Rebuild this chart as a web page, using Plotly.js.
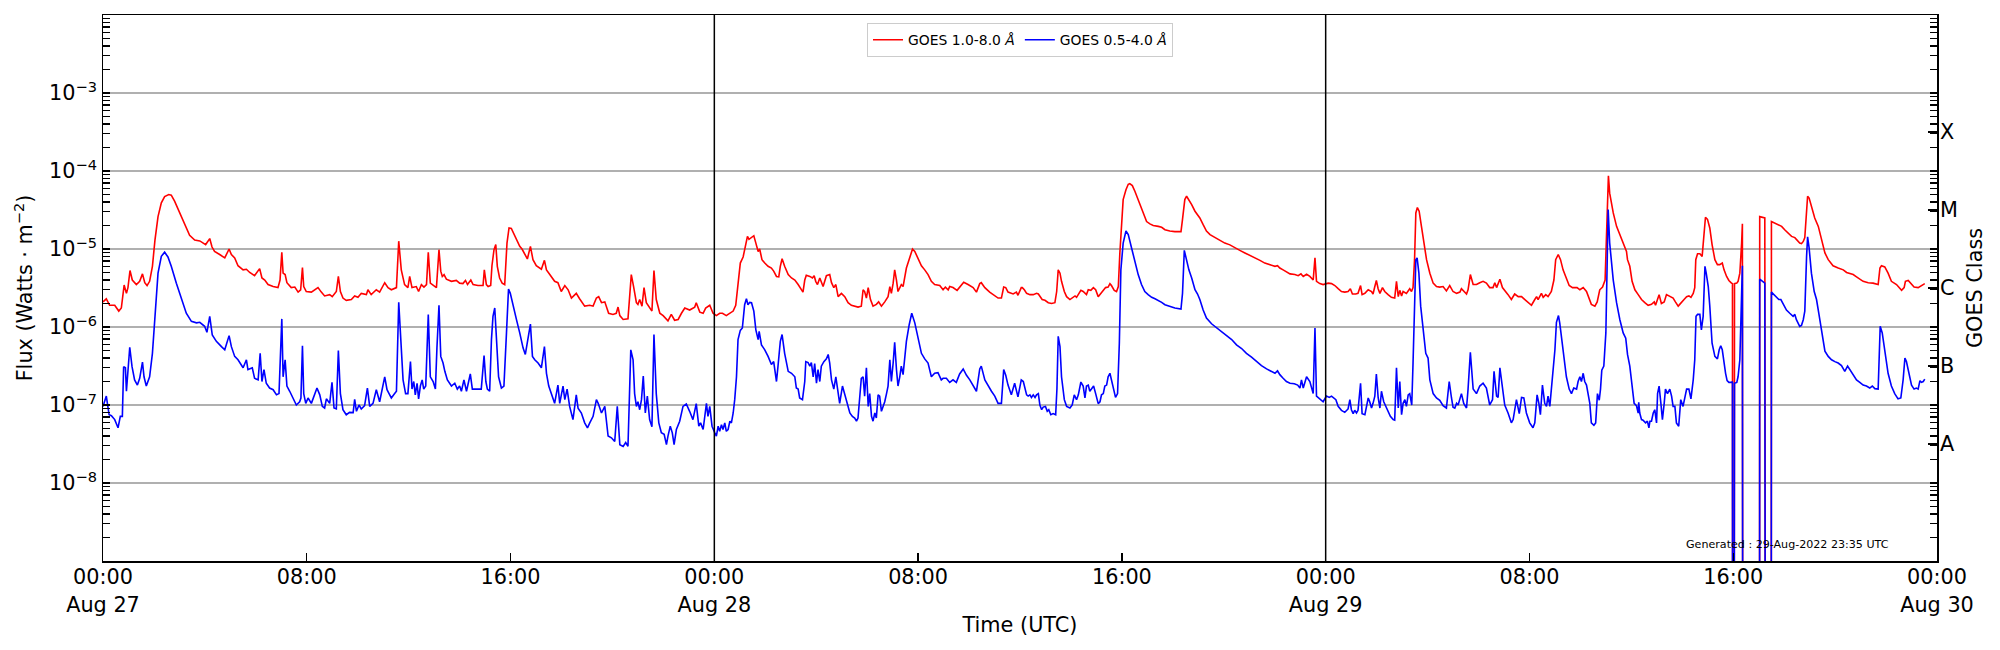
<!DOCTYPE html>
<html>
<head>
<meta charset="utf-8">
<script src="https://cdn.plot.ly/plotly-3.0.1.min.js"></script>
<style>
  html, body { margin: 0; padding: 0; background: #fff; }
  #goesPlot { width: 2000px; height: 650px; }
</style>
</head>
<body>
<div id="goesPlot"></div>
<script>
// times are hours after 2022-08-27 00:00 UTC, flux in W/m^2
// a 0 marks the zero samples near 16:00 on Aug 29 (drawn off the bottom like matplotlib)
var longT = [
  0.00, 0.13, 0.26, 0.46, 0.62, 0.72, 0.83, 0.92, 0.98, 1.06, 1.15, 1.31, 1.44, 1.55, 1.64, 1.73, 1.83, 1.94,
  2.04, 2.16, 2.29, 2.42, 2.58, 2.68, 2.81, 3.01, 3.21, 3.40, 3.60, 3.80, 4.03, 4.19, 4.28, 4.38, 4.58, 4.78,
  4.95, 5.04, 5.17, 5.30, 5.50, 5.63, 5.76, 5.95, 6.15, 6.24, 6.35, 6.48, 6.68, 6.87, 6.95, 7.02, 7.07, 7.15,
  7.22, 7.39, 7.53, 7.66, 7.76, 7.83, 7.88, 7.98, 8.18, 8.38, 8.44, 8.57, 8.70, 8.90, 9.00, 9.16, 9.24, 9.32,
  9.42, 9.55, 9.75, 9.88, 10.01, 10.14, 10.34, 10.40, 10.53, 10.73, 10.86, 11.06, 11.19, 11.32, 11.52, 11.61,
  11.71, 11.84, 11.97,
  12.04, 12.13, 12.30, 12.39, 12.50, 12.60, 12.70, 12.77, 12.85, 12.96, 13.09, 13.19, 13.26, 13.32, 13.39,
  13.48, 13.68, 13.87, 14.00, 14.13, 14.23, 14.31, 14.44, 14.53, 14.72, 14.92, 14.97, 15.05, 15.12, 15.22,
  15.27, 15.35, 15.42, 15.48, 15.57, 15.67, 15.77, 15.86, 15.94, 16.03, 16.16, 16.36, 16.45, 16.56, 16.66,
  16.78, 16.88, 17.01, 17.21, 17.33, 17.41, 17.54, 17.73, 17.86, 17.99, 18.13, 18.26, 18.39, 18.58, 18.71,
  18.91, 19.11, 19.24, 19.37, 19.46, 19.57, 19.70, 19.85, 20.02, 20.15, 20.22, 20.29, 20.42, 20.61, 20.74,
  20.83, 20.94, 21.00, 21.07, 21.16, 21.24, 21.33, 21.46, 21.55, 21.63, 21.72, 21.86, 21.99, 22.18, 22.31,
  22.44, 22.58, 22.71, 22.84, 23.03, 23.23, 23.29, 23.43, 23.56, 23.66, 23.82, 23.95, 24.08,
  24.15, 24.21, 24.32, 24.41, 24.47, 24.54, 24.63, 24.74, 24.84, 24.93, 25.02, 25.13, 25.22, 25.30, 25.36,
  25.46, 25.55, 25.63, 25.72, 25.78, 25.87, 25.98, 26.11, 26.24, 26.33, 26.44, 26.53, 26.59, 26.66, 26.76,
  26.90, 27.03, 27.16, 27.29, 27.38, 27.48, 27.55, 27.61, 27.75, 27.85, 27.92, 27.98, 28.05, 28.14, 28.27,
  28.40, 28.53, 28.60, 28.69, 28.77, 28.86, 28.99, 29.12, 29.25, 29.38, 29.51, 29.64, 29.77, 29.84, 29.90,
  29.97, 30.04, 30.13, 30.23, 30.36, 30.45, 30.56, 30.69, 30.82, 30.89, 30.95, 31.02, 31.08, 31.15, 31.21,
  31.34, 31.41, 31.54, 31.67, 31.78, 31.87, 32.00, 32.13, 32.26, 32.39, 32.52, 32.65, 32.85, 32.98, 33.07,
  33.18, 33.24, 33.37, 33.53, 33.66, 33.79, 33.96, 34.16, 34.29, 34.42, 34.48, 34.62, 34.81, 35.01, 35.14,
  35.27, 35.36, 35.44, 35.53, 35.73, 35.86, 35.92, 36.05,
  36.09, 36.17, 36.26, 36.39, 36.52, 36.65, 36.72, 36.78, 36.87, 36.98, 37.11, 37.24, 37.37, 37.44, 37.50,
  37.57, 37.63, 37.74, 37.83, 37.96, 38.05, 38.16, 38.22, 38.29, 38.39, 38.48, 38.55, 38.61, 38.68, 38.78,
  38.88, 38.97, 39.07, 39.18, 39.28, 39.36, 39.46, 39.53, 39.59, 39.70, 39.79, 39.86, 39.92, 39.99, 40.05,
  40.16, 40.25, 40.31, 40.41, 40.51, 40.64, 40.84, 40.97, 41.10, 41.23, 41.43, 41.56, 41.69, 41.88, 42.08,
  42.32, 42.38, 42.47, 42.54, 42.63, 42.74, 42.87, 42.97, 43.06, 43.19, 43.32, 43.46, 43.65, 43.85, 44.04,
  44.24, 44.44, 44.63, 44.83, 45.03, 45.22, 45.42, 45.61, 45.81, 46.01, 46.11, 46.20, 46.33, 46.46, 46.60,
  46.79, 46.92, 47.03, 47.12, 47.25, 47.38, 47.51, 47.58, 47.64, 47.77, 47.90, 48.03,
  48.10, 48.23, 48.36, 48.49, 48.62, 48.75, 48.88, 48.97, 49.05, 49.18, 49.27, 49.37, 49.43, 49.54, 49.67,
  49.80, 49.86, 49.93, 49.99, 50.06, 50.13, 50.23, 50.32, 50.45, 50.58, 50.71, 50.78, 50.85, 50.91, 50.98,
  51.04, 51.17, 51.30, 51.37, 51.43, 51.49, 51.54, 51.60, 51.67, 51.76, 51.85, 51.96, 52.09, 52.22, 52.35,
  52.48, 52.61, 52.74, 52.87, 53.00, 53.14, 53.27, 53.33, 53.42, 53.53, 53.59, 53.68, 53.79, 53.92, 54.05,
  54.18, 54.31, 54.44, 54.57, 54.64, 54.71, 54.84, 54.94, 55.03, 55.16, 55.29, 55.42, 55.56, 55.69, 55.82,
  55.95, 56.08, 56.21, 56.28, 56.34, 56.47, 56.54, 56.64, 56.73, 56.86, 56.96, 57.03, 57.13, 57.22, 57.32,
  57.45, 57.56, 57.69, 57.78, 57.87, 57.98, 58.11, 58.24, 58.34, 58.43, 58.57, 58.66, 58.76, 58.87, 58.97,
  59.05, 59.10, 59.15, 59.29, 59.42, 59.55, 59.68, 59.81,
  59.85, 59.94, 60.03, 60.14, 60.27, 60.40, 60.53, 60.66, 60.79, 60.90, 60.95, 61.01, 61.09, 61.18, 61.29,
  61.38, 61.51, 61.64, 61.73, 61.84, 61.90, 61.97, 62.07, 62.17, 62.26, 62.34, 62.43, 62.49, 62.53, 62.60,
  62.69, 62.78, 62.86, 62.91, 62.99, 63.08, 63.17, 63.28, 63.38, 63.47, 63.57, 63.64, 63.74, 63.83, 63.93,
  63.97, 63.98, 64.03, 64.05, 64.14, 64.19, 64.26, 64.33, 64.36, 64.38, 65.03, 65.04, 65.11, 65.24, 65.27,
  65.49, 65.50, 65.63, 65.76, 65.90, 66.03, 66.16, 66.29, 66.42, 66.52, 66.61, 66.68, 66.75, 66.81, 66.86,
  66.92, 66.98, 67.07, 67.20, 67.34, 67.47, 67.60, 67.73, 67.92, 68.12, 68.32, 68.45, 68.58, 68.71, 68.84,
  68.97, 69.10, 69.30, 69.49, 69.69, 69.76, 69.82, 69.95, 70.08, 70.21, 70.41, 70.61, 70.71, 70.76, 70.87,
  70.97, 71.10, 71.26, 71.39, 71.52
];
var longFlux = [
  2.1e-6, 2.3e-6, 1.9e-6, 1.9e-6, 1.6e-6, 1.75e-6, 3.45e-6, 2.7e-6, 3.2e-6, 5.3e-6, 4.0e-6, 3.5e-6, 3.85e-6, 4.8e-6, 3.7e-6, 3.4e-6, 3.85e-6, 6.0e-6,
  1.3e-5, 2.6e-5, 3.9e-5, 4.7e-5, 5.0e-5, 4.9e-5, 4.1e-5, 2.9e-5, 2.05e-5, 1.5e-5, 1.3e-5, 1.27e-5, 1.14e-5, 1.36e-5, 1.06e-5, 9.3e-6, 8.5e-6, 7.7e-6,
  1.0e-5, 8.5e-6, 7.7e-6, 6.1e-6, 5.4e-6, 5.5e-6, 5.0e-6, 4.55e-6, 5.6e-6, 4.25e-6, 4.0e-6, 3.5e-6, 3.3e-6, 3.2e-6, 4.0e-6, 9.1e-6, 4.9e-6, 4.7e-6,
  3.7e-6, 3.2e-6, 3.25e-6, 2.8e-6, 3.0e-6, 5.8e-6, 3.3e-6, 2.85e-6, 2.8e-6, 3.07e-6, 3.2e-6, 2.8e-6, 2.5e-6, 2.6e-6, 2.45e-6, 2.85e-6, 4.45e-6, 2.85e-6,
  2.35e-6, 2.2e-6, 2.25e-6, 2.5e-6, 2.4e-6, 2.7e-6, 2.6e-6, 3.0e-6, 2.6e-6, 3.0e-6, 2.8e-6, 3.7e-6, 3.2e-6, 3.0e-6, 3.2e-6, 1.26e-5,
  5.4e-6, 3.5e-6, 3.2e-6,
  4.45e-6, 3.2e-6, 3.3e-6, 2.85e-6, 3.5e-6, 3.25e-6, 3.5e-6, 9.1e-6, 3.65e-6, 3.4e-6, 3.2e-6, 9.8e-6, 5.2e-6, 4.45e-6, 4.7e-6,
  4.1e-6, 3.85e-6, 3.95e-6, 3.65e-6, 3.6e-6, 3.95e-6, 3.5e-6, 4.0e-6, 3.5e-6, 3.4e-6, 3.4e-6, 5.4e-6, 3.5e-6, 3.3e-6, 3.4e-6,
  6.1e-6, 9.8e-6, 1.14e-5, 6.0e-6, 4.25e-6, 3.65e-6, 3.5e-6, 1.19e-5, 1.86e-5, 1.83e-5, 1.48e-5, 1.08e-5, 1.0e-5, 8.5e-6, 7.45e-6,
  1.08e-5, 7.3e-6, 6.1e-6, 5.5e-6, 7.15e-6, 5.4e-6, 4.7e-6, 3.85e-6, 3.7e-6, 2.85e-6, 3.4e-6, 3.0e-6, 2.35e-6, 2.7e-6, 2.3e-6,
  1.85e-6, 1.9e-6, 1.85e-6, 2.35e-6, 2.45e-6, 2.05e-6, 2.1e-6, 1.5e-6, 1.45e-6, 1.5e-6, 1.8e-6, 1.4e-6, 1.25e-6, 1.27e-6, 4.7e-6,
  3.3e-6, 2.05e-6, 1.95e-6, 2.25e-6, 1.85e-6, 3.2e-6, 2.05e-6, 1.75e-6, 1.6e-6, 5.3e-6, 2.25e-6, 1.5e-6, 1.4e-6, 1.2e-6, 1.45e-6,
  1.22e-6, 1.25e-6, 1.5e-6, 1.75e-6, 1.65e-6, 1.8e-6, 2.05e-6, 1.55e-6, 1.5e-6, 1.75e-6, 1.9e-6, 1.5e-6, 1.4e-6,
  1.45e-6, 1.5e-6, 1.5e-6, 1.45e-6, 1.4e-6, 1.45e-6, 1.5e-6, 1.6e-6, 1.9e-6, 3.65e-6, 6.6e-6, 7.9e-6, 1.08e-5, 1.45e-5, 1.33e-5,
  1.42e-5, 1.48e-5, 1.19e-5, 9.3e-6, 1.0e-5, 7.3e-6, 6.6e-6, 6.0e-6, 5.7e-6, 5.2e-6, 4.45e-6, 4.4e-6, 6.0e-6, 7.5e-6, 6.0e-6,
  4.7e-6, 4.25e-6, 4.0e-6, 3.5e-6, 3.2e-6, 2.8e-6, 4.0e-6, 4.6e-6, 4.45e-6, 4.25e-6, 4.55e-6, 3.85e-6, 3.5e-6, 4.25e-6, 3.3e-6,
  4.55e-6, 4.7e-6, 3.7e-6, 3.2e-6, 3.5e-6, 2.45e-6, 2.7e-6, 2.45e-6, 2.05e-6, 1.9e-6, 1.85e-6, 1.8e-6, 1.85e-6, 3.0e-6, 2.85e-6,
  2.35e-6, 3.2e-6, 2.25e-6, 1.85e-6, 1.95e-6, 2.1e-6, 1.85e-6, 2.1e-6, 2.45e-6, 3.3e-6, 2.7e-6, 3.65e-6, 5.4e-6, 4.0e-6, 2.85e-6,
  3.5e-6, 3.3e-6, 5.7e-6, 8.05e-6, 1.0e-5, 9.3e-6, 7.7e-6, 6.1e-6, 5.4e-6, 4.7e-6, 3.85e-6, 3.5e-6, 3.4e-6, 3.0e-6, 3.25e-6,
  3.0e-6, 3.3e-6, 3.2e-6, 2.95e-6, 3.3e-6, 3.75e-6, 3.5e-6, 3.2e-6, 2.8e-6, 3.6e-6, 3.7e-6, 3.2e-6, 2.8e-6, 2.5e-6, 2.35e-6,
  2.35e-6, 3.25e-6, 3.2e-6, 2.8e-6, 2.65e-6, 2.8e-6, 2.55e-6, 3.2e-6,
  3.2e-6, 3.0e-6, 2.7e-6, 2.6e-6, 2.6e-6, 2.7e-6, 2.65e-6, 2.45e-6, 2.25e-6, 2.2e-6, 2.05e-6, 2.0e-6, 2.05e-6, 2.85e-6, 5.4e-6,
  4.9e-6, 3.85e-6, 2.85e-6, 2.45e-6, 2.25e-6, 2.35e-6, 2.5e-6, 2.4e-6, 2.6e-6, 2.95e-6, 2.85e-6, 2.7e-6, 2.6e-6, 3.0e-6, 2.95e-6,
  3.2e-6, 3.0e-6, 2.45e-6, 2.7e-6, 3.0e-6, 3.2e-6, 3.25e-6, 3.6e-6, 3.4e-6, 2.95e-6, 2.85e-6, 3.3e-6, 8.9e-6, 2.4e-5, 4.3e-5,
  5.75e-5, 6.75e-5, 6.9e-5, 6.5e-5, 5.5e-5, 4.3e-5, 2.9e-5, 2.25e-5, 2.1e-5, 2.0e-5, 1.95e-5, 1.9e-5, 1.77e-5, 1.7e-5, 1.67e-5,
  1.67e-5, 2.4e-5, 4.3e-5, 4.75e-5, 4.3e-5, 3.7e-5, 3.05e-5, 2.75e-5, 2.5e-5, 2.05e-5, 1.7e-5, 1.53e-5, 1.4e-5, 1.28e-5, 1.19e-5,
  1.13e-5, 1.03e-5, 9.6e-6, 8.9e-6, 8.3e-6, 7.7e-6, 7.15e-6, 6.6e-6, 6.25e-6, 6.0e-6, 6.1e-6, 5.7e-6, 5.4e-6, 5.05e-6, 4.8e-6,
  4.7e-6, 4.55e-6, 4.8e-6, 4.45e-6, 4.75e-6, 4.45e-6, 4.0e-6, 7.7e-6, 3.85e-6, 3.6e-6, 3.5e-6, 3.65e-6,
  3.65e-6, 3.6e-6, 3.4e-6, 3.1e-6, 2.85e-6, 2.8e-6, 2.85e-6, 3.1e-6, 2.65e-6, 2.65e-6, 2.7e-6, 3.4e-6, 2.6e-6, 2.7e-6, 3.0e-6,
  2.85e-6, 2.65e-6, 3.3e-6, 3.95e-6, 3.1e-6, 2.7e-6, 3.2e-6, 2.85e-6, 2.6e-6, 2.4e-6, 2.35e-6, 3.85e-6, 2.45e-6, 2.95e-6, 2.5e-6,
  2.85e-6, 2.7e-6, 3.1e-6, 2.85e-6, 3.2e-6, 7.3e-6, 2.9e-5, 3.4e-5, 3.05e-5, 1.95e-5, 1.19e-5, 7.3e-6, 4.9e-6, 3.65e-6, 3.3e-6,
  3.25e-6, 3.3e-6, 2.9e-6, 3.4e-6, 2.85e-6, 2.7e-6, 2.8e-6, 3.1e-6, 2.85e-6, 2.65e-6, 3.0e-6, 4.7e-6, 3.5e-6, 3.5e-6, 3.7e-6,
  3.85e-6, 3.65e-6, 3.2e-6, 3.2e-6, 3.7e-6, 3.2e-6, 4.1e-6, 3.2e-6, 2.95e-6, 2.6e-6, 2.25e-6, 2.65e-6, 2.45e-6, 2.45e-6, 2.25e-6,
  2.05e-6, 1.9e-6, 2.25e-6, 2.45e-6, 2.25e-6, 2.7e-6, 2.4e-6, 2.6e-6, 2.45e-6, 2.85e-6, 4.0e-6, 7.3e-6, 8.5e-6, 7.3e-6, 5.4e-6,
  4.1e-6, 3.4e-6, 3.2e-6, 3.2e-6, 3.2e-6, 3.0e-6, 3.2e-6, 2.85e-6, 2.35e-6, 1.95e-6, 1.85e-6, 2.1e-6, 3.0e-6, 3.25e-6, 4.0e-6,
  2.4e-5, 8.7e-5, 5.2e-5, 2.9e-5, 1.95e-5, 1.53e-5, 1.19e-5, 9.3e-6,
  7.3e-6, 6.0e-6, 3.85e-6, 3.0e-6, 2.6e-6, 2.25e-6, 2.05e-6, 1.9e-6, 1.95e-6, 2.1e-6, 1.9e-6, 2.25e-6, 2.6e-6, 2.0e-6, 2.1e-6,
  2.6e-6, 2.5e-6, 2.35e-6, 2.1e-6, 1.85e-6, 1.95e-6, 2.1e-6, 2.25e-6, 2.45e-6, 2.5e-6, 2.4e-6, 2.7e-6, 3.2e-6, 7.3e-6, 8.7e-6,
  8.7e-6, 8.05e-6, 1.77e-5, 2.55e-5, 2.4e-5, 1.86e-5, 1.14e-5, 7.3e-6, 6.3e-6, 6.3e-6, 6.6e-6, 5.4e-6, 4.45e-6, 3.95e-6, 3.65e-6,
  3.6e-6, 0, 0, 3.6e-6, 3.65e-6, 3.85e-6, 4.9e-6, 1.19e-5, 2.1e-5, 0, 0, 2.6e-5, 2.55e-5, 2.5e-5, 0,
  0, 2.25e-5, 2.15e-5, 2.05e-5, 1.95e-5, 1.75e-5, 1.58e-5, 1.45e-5, 1.4e-5, 1.3e-5, 1.19e-5, 1.17e-5, 1.25e-5, 1.4e-5, 2.6e-5,
  4.75e-5, 4.5e-5, 3.5e-5, 2.5e-5, 1.95e-5, 1.3e-5, 8.9e-6, 7.3e-6, 6.1e-6, 5.7e-6, 5.4e-6, 5.0e-6, 4.9e-6, 4.7e-6, 4.4e-6,
  4.1e-6, 3.85e-6, 3.7e-6, 3.65e-6, 3.5e-6, 5.7e-6, 6.1e-6, 5.9e-6, 4.9e-6, 3.85e-6, 3.5e-6, 2.95e-6, 3.2e-6, 3.85e-6, 3.95e-6,
  3.6e-6, 3.25e-6, 3.2e-6, 3.4e-6, 3.6e-6
];

var shortT = [
  0.00, 0.13, 0.24, 0.33, 0.46, 0.59, 0.68, 0.76, 0.81, 0.88, 0.92, 0.98, 1.05, 1.14, 1.24, 1.35, 1.44, 1.55,
  1.61, 1.70, 1.83, 1.94, 2.03, 2.16, 2.29, 2.42, 2.55, 2.68, 2.88, 3.08, 3.27, 3.47, 3.67, 3.80, 3.99, 4.08,
  4.19, 4.29, 4.45, 4.65, 4.78, 4.95, 5.04, 5.17, 5.30, 5.50, 5.63, 5.69, 5.86, 5.95, 6.09, 6.17, 6.24, 6.32,
  6.41, 6.54, 6.68, 6.81, 6.91, 7.02, 7.07, 7.15, 7.22, 7.33, 7.46, 7.59, 7.72, 7.77, 7.83, 7.88, 7.96, 8.05,
  8.18, 8.40, 8.51, 8.61, 8.70, 8.77, 8.90, 8.99, 9.07, 9.16, 9.24, 9.32, 9.42, 9.55, 9.68, 9.82, 9.88, 9.95,
  10.05, 10.14, 10.27, 10.38, 10.47, 10.60, 10.73, 10.86, 11.06, 11.15, 11.23, 11.32, 11.45, 11.52, 11.61,
  11.69, 11.78, 11.88, 11.97,
  12.07, 12.13, 12.20, 12.26, 12.33, 12.39, 12.46, 12.53, 12.59, 12.67, 12.77, 12.85, 12.96, 13.05, 13.11,
  13.19, 13.26, 13.35, 13.42, 13.52, 13.68, 13.81, 13.91, 14.00, 14.07, 14.17, 14.27, 14.33, 14.42, 14.50,
  14.66, 14.85, 14.96, 15.03, 15.09, 15.18, 15.25, 15.31, 15.38, 15.46, 15.53, 15.64, 15.74, 15.84, 15.92,
  15.99, 16.10, 16.23, 16.36, 16.49, 16.58, 16.69, 16.78, 16.86, 16.95, 17.08, 17.21, 17.33, 17.41, 17.50,
  17.60, 17.73, 17.86, 17.93, 18.06, 18.13, 18.22, 18.32, 18.45, 18.58, 18.65, 18.78, 18.91, 19.02, 19.11,
  19.24, 19.37, 19.44, 19.57, 19.70, 19.83, 19.96, 20.09, 20.19, 20.29, 20.42, 20.52, 20.61, 20.72, 20.81,
  20.87, 20.94, 21.00, 21.07, 21.14, 21.21, 21.29, 21.37, 21.46, 21.55, 21.63, 21.72, 21.82, 21.92, 22.03,
  22.12, 22.18, 22.27, 22.35, 22.42, 22.51, 22.64, 22.77, 22.90, 23.03, 23.16, 23.29, 23.39, 23.46, 23.56,
  23.69, 23.75, 23.82, 23.91, 24.02, 24.08,
  24.15, 24.21, 24.28, 24.34, 24.41, 24.47, 24.54, 24.61, 24.67, 24.74, 24.80, 24.87, 24.93, 25.02, 25.10,
  25.19, 25.26, 25.32, 25.39, 25.46, 25.55, 25.63, 25.72, 25.76, 25.85, 25.98, 26.11, 26.24, 26.33, 26.44,
  26.50, 26.59, 26.66, 26.76, 26.90, 27.03, 27.16, 27.22, 27.29, 27.35, 27.46, 27.55, 27.59, 27.68, 27.75,
  27.81, 27.88, 27.94, 28.01, 28.07, 28.14, 28.20, 28.30, 28.40, 28.47, 28.53, 28.60, 28.69, 28.77, 28.86,
  28.92, 29.03, 29.12, 29.21, 29.32, 29.42, 29.51, 29.58, 29.64, 29.77, 29.84, 29.90, 29.97, 30.04, 30.10,
  30.17, 30.23, 30.30, 30.36, 30.43, 30.49, 30.56, 30.69, 30.76, 30.82, 30.89, 30.95, 31.02, 31.08, 31.15,
  31.21, 31.28, 31.34, 31.41, 31.47, 31.54, 31.65, 31.75, 31.87, 32.00, 32.13, 32.26, 32.39, 32.52, 32.65,
  32.78, 32.91, 32.98, 33.11, 33.24, 33.37, 33.50, 33.63, 33.77, 33.90, 34.03, 34.16, 34.29, 34.42, 34.48,
  34.62, 34.75, 34.88, 35.01, 35.14, 35.27, 35.36, 35.44, 35.53, 35.66, 35.79, 35.92, 36.05,
  36.13, 36.19, 36.26, 36.32, 36.39, 36.45, 36.52, 36.59, 36.65, 36.72, 36.78, 36.85, 36.91, 37.00, 37.07,
  37.13, 37.21, 37.30, 37.40, 37.45, 37.50, 37.57, 37.63, 37.74, 37.83, 37.96, 38.05, 38.13, 38.22, 38.29,
  38.39, 38.48, 38.55, 38.61, 38.68, 38.74, 38.81, 38.89, 38.97, 39.07, 39.14, 39.20, 39.27, 39.33, 39.40,
  39.46, 39.53, 39.59, 39.66, 39.75, 39.83, 39.90, 39.96, 40.05, 40.16, 40.25, 40.38, 40.51, 40.64, 40.77,
  40.90, 41.03, 41.17, 41.30, 41.43, 41.56, 41.69, 41.88, 42.08, 42.32, 42.38, 42.45, 42.54, 42.63, 42.74,
  42.87, 42.97, 43.06, 43.19, 43.32, 43.52, 43.72, 43.91, 44.11, 44.31, 44.50, 44.70, 44.89, 45.09, 45.29,
  45.48, 45.68, 45.88, 46.01, 46.11, 46.20, 46.33, 46.46, 46.60, 46.77, 46.90, 46.99, 47.05, 47.12, 47.25,
  47.38, 47.51, 47.58, 47.64, 47.77, 47.90, 48.03,
  48.14, 48.23, 48.32, 48.40, 48.49, 48.62, 48.75, 48.88, 48.95, 49.01, 49.08, 49.14, 49.21, 49.27, 49.37,
  49.43, 49.54, 49.60, 49.67, 49.73, 49.80, 49.86, 49.93, 49.99, 50.06, 50.13, 50.19, 50.28, 50.39, 50.45,
  50.54, 50.65, 50.71, 50.78, 50.85, 50.91, 50.98, 51.04, 51.11, 51.17, 51.24, 51.30, 51.38, 51.43, 51.49,
  51.54, 51.59, 51.66, 51.73, 51.83, 51.93, 52.02, 52.09, 52.22, 52.35, 52.48, 52.61, 52.74, 52.85, 52.94,
  53.00, 53.07, 53.14, 53.20, 53.33, 53.42, 53.53, 53.59, 53.68, 53.79, 53.92, 54.05, 54.18, 54.31, 54.44,
  54.55, 54.61, 54.71, 54.77, 54.84, 54.94, 55.03, 55.16, 55.29, 55.36, 55.49, 55.60, 55.69, 55.78, 55.88,
  56.01, 56.14, 56.21, 56.30, 56.37, 56.43, 56.51, 56.60, 56.67, 56.73, 56.80, 56.86, 56.93, 57.00, 57.06,
  57.14, 57.19, 57.26, 57.35, 57.45, 57.56, 57.65, 57.74, 57.85, 57.91, 57.98, 58.04, 58.11, 58.17, 58.24,
  58.37, 58.43, 58.53, 58.60, 58.67, 58.74, 58.79, 58.84, 58.92, 59.00, 59.09, 59.15, 59.29, 59.42, 59.55,
  59.68, 59.78,
  59.85, 59.94, 60.01, 60.11, 60.20, 60.27, 60.29, 60.33, 60.40, 60.46, 60.56, 60.63, 60.69, 60.73, 60.79,
  60.86, 60.92, 60.99, 61.03, 61.09, 61.16, 61.22, 61.29, 61.34, 61.42, 61.51, 61.58, 61.64, 61.71, 61.77,
  61.86, 61.94, 62.03, 62.10, 62.17, 62.26, 62.34, 62.43, 62.49, 62.54, 62.60, 62.69, 62.75, 62.82, 62.89,
  62.94, 63.02, 63.08, 63.17, 63.28, 63.38, 63.45, 63.51, 63.57, 63.63, 63.70, 63.76, 63.83, 63.93, 63.97,
  63.98, 64.03, 64.05, 64.14, 64.19, 64.26, 64.33, 64.36, 64.38, 65.03, 65.04, 65.11, 65.24, 65.27, 65.49,
  65.50, 65.61, 65.70, 65.79, 65.87, 65.96, 66.09, 66.22, 66.35, 66.42, 66.48, 66.61, 66.68, 66.75, 66.81,
  66.88, 66.92, 66.98, 67.07, 67.18, 67.27, 67.36, 67.47, 67.60, 67.73, 67.86, 67.99, 68.12, 68.25, 68.38,
  68.49, 68.58, 68.71, 68.84, 68.97, 69.10, 69.23, 69.36, 69.46, 69.56, 69.69, 69.77, 69.85, 69.95, 70.08,
  70.21, 70.34, 70.47, 70.58, 70.67, 70.74, 70.80, 70.87, 71.00, 71.10, 71.19, 71.26, 71.33, 71.39, 71.46,
  71.52
];
var shortFlux = [
  9.6e-8, 1.3e-7, 7.5e-8, 7.3e-8, 6.5e-8, 5.1e-8, 7.15e-8, 7.15e-8, 3.1e-7, 3.0e-7, 1.5e-7, 3.1e-7, 5.5e-7, 3.1e-7, 2.1e-7, 1.8e-7, 2.2e-7, 3.55e-7,
  2.3e-7, 1.75e-7, 2.3e-7, 4.6e-7, 1.24e-6, 4.9e-6, 8.05e-6, 9.1e-6, 7.9e-6, 6.0e-6, 3.65e-6, 2.25e-6, 1.5e-6, 1.18e-6, 1.13e-6, 1.15e-6, 1.02e-6, 8.55e-7,
  1.37e-6, 7.9e-7, 6.55e-7, 5.6e-7, 5.1e-7, 7.75e-7, 5.6e-7, 4.2e-7, 3.8e-7, 3.0e-7, 3.8e-7, 2.85e-7, 3.0e-7, 2.2e-7, 2.1e-7, 4.6e-7, 2.0e-7, 2.85e-7,
  1.9e-7, 1.65e-7, 1.57e-7, 1.35e-7, 1.4e-7, 1.27e-6, 2.3e-7, 3.8e-7, 1.75e-7, 1.5e-7, 1.23e-7, 1.0e-7, 1.1e-7, 1.23e-7, 5.75e-7, 1.4e-7, 1.05e-7, 1.23e-7,
  1.05e-7, 1.65e-7, 1.35e-7, 9.6e-8, 9.15e-8, 1.2e-7, 1.05e-7, 1.95e-7, 9.15e-8, 8.9e-8, 5.0e-7, 1.4e-7, 8.7e-8, 7.5e-8, 8.05e-8, 8.0e-8, 1.18e-7, 8.3e-8,
  1.0e-7, 8.9e-8, 9.8e-8, 1.65e-7, 9.6e-8, 1.05e-7, 1.57e-7, 1.1e-7, 2.3e-7, 1.57e-7, 1.4e-7, 1.23e-7, 1.4e-7, 1.5e-7, 2.07e-6,
  6.25e-7, 2.1e-7, 1.4e-7, 1.4e-7,
  3.6e-7, 1.6e-7, 2.0e-7, 1.35e-7, 1.9e-7, 1.2e-7, 1.75e-7, 2.1e-7, 1.6e-7, 1.75e-7, 1.44e-6, 2.3e-7, 2.0e-7, 1.6e-7, 5.4e-7,
  1.9e-6, 4.2e-7, 3.45e-7, 2.7e-7, 2.1e-7, 1.75e-7, 1.9e-7, 1.6e-7, 1.75e-7, 1.5e-7, 2.1e-7, 1.5e-7, 1.9e-7, 2.5e-7, 1.6e-7,
  1.6e-7, 1.6e-7, 4.3e-7, 2.0e-7, 1.6e-7, 1.5e-7, 6.9e-7, 1.37e-6, 1.75e-6, 6.2e-7, 2.3e-7, 1.65e-7, 1.75e-7, 8.4e-7, 3.07e-6,
  2.7e-6, 1.85e-6, 1.25e-6, 8.4e-7, 5.4e-7, 4.45e-7, 7.6e-7, 1.09e-6, 4.2e-7, 3.8e-7, 3.45e-7, 3.0e-7, 5.6e-7, 2.55e-7, 1.75e-7,
  1.4e-7, 1.05e-7, 1.8e-7, 1.05e-7, 1.75e-7, 1.17e-7, 1.6e-7, 9.6e-8, 6.5e-8, 1.35e-7, 9.1e-8, 7.9e-8, 5.9e-8, 5.1e-8, 5.9e-8,
  7.15e-8, 1.17e-7, 1.05e-7, 7.9e-8, 9.6e-8, 4.0e-8, 3.8e-8, 3.4e-8, 9.6e-8, 3.1e-8, 2.95e-8, 3.3e-8, 2.95e-8, 5.1e-7, 3.8e-7,
  1.4e-7, 9.6e-8, 1.1e-7, 8.7e-8, 1.17e-7, 2.35e-7, 7.9e-8, 1.3e-7, 6.5e-8, 5.25e-8, 8.0e-7, 1.4e-7, 5.9e-8, 4.4e-8, 4.2e-8,
  3.1e-8, 4.0e-8, 5.35e-8, 4.4e-8, 3.1e-8, 4.85e-8, 6.2e-8, 9.6e-8, 1.03e-7, 8.3e-8, 6.5e-8, 1.04e-7, 5.35e-8, 5.9e-8, 4.85e-8,
  1.05e-7, 7.15e-8, 9.6e-8, 5.35e-8, 4.4e-8, 4.0e-8,
  5.35e-8, 4.6e-8, 5.6e-8, 4.85e-8, 5.9e-8, 4.6e-8, 4.85e-8, 6.2e-8, 5.9e-8, 7.9e-8, 1.17e-7, 2.3e-7, 6.9e-7, 9.05e-7, 9.7e-7,
  1.93e-6, 2.3e-6, 1.93e-6, 2.07e-6, 2.05e-6, 1.6e-6, 9.2e-7, 6.9e-7, 8.8e-7, 5.9e-7, 5.1e-7, 4.2e-7, 3.3e-7, 3.6e-7, 2.0e-7,
  3.15e-7, 6.55e-7, 8.0e-7, 4.6e-7, 2.7e-7, 2.55e-7, 2.3e-7, 1.65e-7, 1.6e-7, 1.23e-7, 1.17e-7, 2.0e-7, 3.6e-7, 3.5e-7, 3.15e-7,
  3.5e-7, 2.3e-7, 3.4e-7, 1.9e-7, 2.85e-7, 2.0e-7, 3.15e-7, 3.6e-7, 3.9e-7, 4.45e-7, 3.45e-7, 2.1e-7, 1.6e-7, 2.3e-7, 1.4e-7,
  1.05e-7, 1.75e-7, 1.4e-7, 1.05e-7, 7.9e-8, 7.15e-8, 6.8e-8, 6.2e-8, 6.8e-8, 2.2e-7, 2.3e-7, 1.3e-7, 3.0e-7, 9.6e-8, 1.4e-7,
  7.15e-8, 6.2e-8, 7.9e-8, 6.8e-8, 1.35e-7, 1.3e-7, 8.3e-8, 1.1e-7, 1.4e-7, 1.75e-7, 3.8e-7, 2.0e-7, 3.45e-7, 6.35e-7, 2.85e-7,
  1.75e-7, 2.3e-7, 3.15e-7, 2.45e-7, 4.2e-7, 6.55e-7, 1.07e-6, 1.5e-6, 1.13e-6, 7.2e-7, 4.6e-7, 3.9e-7, 3.45e-7, 2.3e-7, 2.55e-7,
  2.6e-7, 2.1e-7, 2.2e-7, 2.2e-7, 1.95e-7, 2.1e-7, 1.95e-7, 2.5e-7, 2.9e-7, 2.4e-7, 2.1e-7, 1.8e-7, 1.5e-7, 2.9e-7, 3.15e-7,
  2.1e-7, 1.75e-7, 1.5e-7, 1.3e-7, 1.05e-7, 1.05e-7, 2.85e-7, 2.4e-7, 1.8e-7, 1.35e-7, 1.9e-7, 1.27e-7, 2.1e-7,
  2.0e-7, 1.6e-7, 1.35e-7, 1.3e-7, 1.35e-7, 1.25e-7, 1.35e-7, 1.25e-7, 1.35e-7, 1.4e-7, 1.0e-7, 8.7e-8, 9.4e-8, 9.6e-8, 8.3e-8,
  8.7e-8, 7.5e-8, 7.75e-8, 7.5e-8, 1.6e-7, 7.6e-7, 5.6e-7, 2.3e-7, 1.17e-7, 9.6e-8, 9.15e-8, 1.0e-7, 1.35e-7, 1.17e-7, 1.35e-7,
  1.97e-7, 1.75e-7, 1.23e-7, 1.75e-7, 1.8e-7, 1.5e-7, 1.62e-7, 1.75e-7, 1.4e-7, 1.04e-7, 1.1e-7, 1.35e-7, 1.4e-7, 1.75e-7, 1.8e-7,
  2.3e-7, 2.55e-7, 2.1e-7, 1.6e-7, 1.25e-7, 1.4e-7, 6.2e-7, 5.4e-6, 1.19e-5, 1.7e-5, 1.53e-5, 1.03e-5, 6.95e-6, 4.7e-6, 3.5e-6,
  2.85e-6, 2.6e-6, 2.4e-6, 2.3e-6, 2.2e-6, 2.07e-6, 1.93e-6, 1.85e-6, 1.75e-6, 1.7e-6, 2.7e-6, 9.6e-6, 7.3e-6, 5.4e-6, 4.25e-6,
  3.0e-6, 2.65e-6, 2.25e-6, 1.65e-6, 1.3e-6, 1.1e-6, 9.7e-7, 8.55e-7, 7.75e-7, 6.9e-7, 5.9e-7, 5.3e-7, 4.6e-7, 4.1e-7, 3.6e-7,
  3.2e-7, 2.9e-7, 2.65e-7, 2.55e-7, 2.75e-7, 2.45e-7, 2.2e-7, 2.0e-7, 1.9e-7, 1.87e-7, 1.8e-7, 1.65e-7, 2.1e-7, 1.65e-7, 2.3e-7,
  2.0e-7, 1.4e-7, 9.7e-7, 1.3e-7, 1.2e-7, 1.1e-7, 1.3e-7,
  1.25e-7, 1.3e-7, 1.23e-7, 1.17e-7, 9.6e-8, 8.55e-8, 8.05e-8, 8.9e-8, 1.17e-7, 8.7e-8, 7.75e-8, 8.55e-8, 7.9e-8, 8.55e-8, 1.9e-7,
  7.75e-8, 7.5e-8, 1.0e-7, 1.23e-7, 1.1e-7, 9.15e-8, 1.05e-7, 1.3e-7, 2.5e-7, 1.25e-7, 9.15e-8, 1.5e-7, 1.1e-7, 9.15e-8, 8.3e-8,
  7.15e-8, 6.5e-8, 6.4e-8, 3.0e-7, 9.15e-8, 2.0e-7, 7.5e-8, 1.05e-7, 1.17e-7, 9.6e-8, 1.35e-7, 1.4e-7, 1.0e-7, 3.45e-7, 2.7e-6,
  7.3e-6, 7.7e-6, 4.9e-6, 1.85e-6, 8.4e-7, 4.6e-7, 4.0e-7, 2.1e-7, 1.4e-7, 1.23e-7, 1.15e-7, 9.8e-8, 9.15e-8, 2.0e-7, 1.23e-7,
  9.4e-8, 9.15e-8, 1.05e-7, 1.0e-7, 1.4e-7, 1.05e-7, 9.15e-8, 1.6e-7, 4.75e-7, 1.6e-7, 1.4e-7, 1.75e-7, 1.9e-7, 1.65e-7, 1.0e-7,
  1.17e-7, 2.7e-7, 1.3e-7, 1.25e-7, 3.0e-7, 1.65e-7, 1.0e-7, 7.9e-8, 5.9e-8, 6.5e-8, 1.17e-7, 7.75e-8, 1.25e-7, 1.23e-7, 7.9e-8,
  5.9e-8, 5.1e-8, 5.9e-8, 1.35e-7, 1.05e-7, 7.5e-8, 1.8e-7, 1.05e-7, 9.6e-8, 1.3e-7, 9.6e-8, 1.6e-7, 2.55e-7, 5.1e-7, 1.15e-6,
  1.4e-6, 1.12e-6, 7.6e-7, 4.2e-7, 2.3e-7, 1.6e-7, 1.4e-7, 1.65e-7, 1.6e-7, 2.0e-7, 2.3e-7, 2.0e-7, 2.55e-7, 2.0e-7, 1.8e-7,
  1.05e-7, 5.9e-8, 5.5e-8, 5.9e-8, 1.4e-7, 1.15e-7, 1.6e-7, 2.8e-7, 3.15e-7, 8.4e-7, 3.2e-5, 1.19e-5, 4.0e-6, 2.05e-6, 1.24e-6,
  8.4e-7, 7.2e-7,
  4.45e-7, 3.15e-7, 2.1e-7, 1.05e-7, 9.8e-8, 7.9e-8, 1.08e-7, 7.9e-8, 6.5e-8, 6.4e-8, 5.9e-8, 6.2e-8, 5.1e-8, 6.2e-8, 6.2e-8,
  7.9e-8, 8.7e-8, 5.9e-8, 1.4e-7, 1.75e-7, 1.05e-7, 6.5e-8, 1.05e-7, 1.6e-7, 1.4e-7, 1.6e-7, 1.3e-7, 9.6e-8, 9.6e-8, 5.9e-8,
  5.35e-8, 1.17e-7, 9.6e-8, 1.23e-7, 1.6e-7, 1.6e-7, 1.2e-7, 2.1e-7, 3.8e-7, 1.37e-6, 1.45e-6, 1.45e-6, 9.2e-7, 1.37e-6, 6.0e-6,
  4.9e-6, 3.3e-6, 1.85e-6, 6.2e-7, 4.2e-7, 3.9e-7, 5.1e-7, 5.75e-7, 5.1e-7, 3.45e-7, 2.55e-7, 2.05e-7, 1.95e-7, 1.95e-7, 2.0e-7,
  0, 0, 1.9e-7, 1.95e-7, 2.3e-7, 3.8e-7, 2.7e-6, 6.1e-6, 0, 0, 4.1e-6, 3.95e-6, 3.65e-6, 0, 0,
  2.8e-6, 2.6e-6, 2.45e-6, 2.25e-6, 2.25e-6, 1.95e-6, 1.65e-6, 1.5e-6, 1.37e-6, 1.45e-6, 1.24e-6, 1.02e-6, 1.05e-6, 1.24e-6, 1.6e-6,
  8.05e-6, 1.43e-5, 1.03e-5, 4.9e-6, 2.85e-6, 2.25e-6, 1.5e-6, 8.4e-7, 4.9e-7, 4.2e-7, 3.8e-7, 3.6e-7, 3.45e-7, 3.2e-7, 2.7e-7,
  3.15e-7, 2.85e-7, 2.45e-7, 2.1e-7, 1.95e-7, 1.8e-7, 1.75e-7, 1.65e-7, 1.75e-7, 1.62e-7, 1.6e-7, 1.02e-6, 8.4e-7, 5.1e-7, 2.55e-7,
  1.75e-7, 1.4e-7, 1.2e-7, 1.23e-7, 2.1e-7, 4.0e-7, 3.6e-7, 2.85e-7, 1.8e-7, 1.6e-7, 1.65e-7, 1.6e-7, 2.05e-7, 1.95e-7, 2.0e-7,
  2.15e-7
];

var tickHours = [0, 8, 16, 24, 32, 40, 48, 56, 64, 72];
var tickText = ['00:00<br>Aug 27', '08:00', '16:00', '00:00<br>Aug 28', '08:00', '16:00',
                '00:00<br>Aug 29', '08:00', '16:00', '00:00<br>Aug 30'];
var dayLineHours = [24, 48];
var fluxTicks = [1e-8, 1e-7, 1e-6, 1e-5, 1e-4, 1e-3];
var fluxTickText = ['10<sup>−8</sup>', '10<sup>−7</sup>', '10<sup>−6</sup>',
                    '10<sup>−5</sup>', '10<sup>−4</sup>', '10<sup>−3</sup>'];
var classLabels = ['A', 'B', 'C', 'M', 'X'];

var t0 = Date.UTC(2022, 7, 27);
function toDate(h) {
  return new Date(t0 + Math.round(h * 3600000)).toISOString().replace('T', ' ').slice(0, 19);
}

// matplotlib clips non-positive values on a log axis, so the line runs off the bottom
function clipLog(v) {
  return v > 0 ? v : 1e-14;
}

// every log tick (decades and 2..9 in between), drawn on both sides of the frame
var logTicks = [];
for (var k = -9; k <= -3; k++) {
  for (var m = 1; m <= 9; m++) logTicks.push(m * Math.pow(10, k));
}
logTicks.push(1e-2);
var classCenters = [];
for (var c = 0; c < classLabels.length; c++) classCenters.push(Math.pow(10, -7.5 + c));

var font = 'DejaVu Sans, Liberation Sans, sans-serif';
var black = '#000000';

var longTrace = {
  x: longT.map(toDate),
  y: longFlux.map(clipLog),
  type: 'scatter',
  mode: 'lines',
  name: 'GOES 1.0-8.0 <i>Å</i>',
  line: {color: '#ff0000', width: 1.6}
};
var shortTrace = {
  x: shortT.map(toDate),
  y: shortFlux.map(clipLog),
  type: 'scatter',
  mode: 'lines',
  name: 'GOES 0.5-4.0 <i>Å</i>',
  line: {color: '#0000ff', width: 1.6}
};

// invisible traces that only hold the overlay axes
function holder(axis) {
  return {
    x: [toDate(0)], y: [1e-5], yaxis: axis,
    type: 'scatter', mode: 'markers', marker: {opacity: 0},
    showlegend: false, hoverinfo: 'skip'
  };
}

var shapes = dayLineHours.map(function (h) {
  return {
    type: 'line', xref: 'x', yref: 'paper',
    x0: toDate(h), x1: toDate(h), y0: 0, y1: 1,
    line: {color: black, width: 1.5}
  };
});

var layout = {
  width: 2000,
  height: 650,
  margin: {l: 103, r: 63, t: 15, b: 89},
  paper_bgcolor: '#ffffff',
  plot_bgcolor: '#ffffff',
  font: {family: font, size: 20.8, color: black},
  showlegend: true,
  legend: {
    orientation: 'h',
    x: 0.5, xanchor: 'center',
    y: 0.985, yanchor: 'top',
    bgcolor: 'rgba(255,255,255,0.8)',
    bordercolor: '#cccccc',
    borderwidth: 1,
    font: {family: font, size: 13.9, color: black},
    itemwidth: 30
  },
  xaxis: {
    type: 'date',
    range: [toDate(0), toDate(72)],
    tickmode: 'array',
    tickvals: tickHours.map(toDate),
    ticktext: tickText,
    ticks: 'inside',
    ticklen: 8,
    tickwidth: 1.3,
    tickcolor: black,
    ticklabelstandoff: -3,
    showgrid: false,
    zeroline: false,
    showline: true,
    mirror: true,
    linecolor: black,
    linewidth: 1.5,
    tickfont: {family: font, size: 20.8, color: black},
    title: {text: 'Time (UTC)', font: {family: font, size: 20.8, color: black}, standoff: 2}
  },
  // frame axis: all log ticks, mirrored onto the right edge
  yaxis: {
    type: 'log',
    range: [-9, -2],
    tickmode: 'array',
    tickvals: logTicks,
    ticks: 'inside',
    ticklen: 7,
    tickwidth: 1.2,
    tickcolor: black,
    showticklabels: false,
    showgrid: false,
    zeroline: false,
    showline: true,
    mirror: 'allticks',
    linecolor: black,
    linewidth: 1.5
  },
  // decade labels and grid
  yaxis3: {
    type: 'log',
    range: [-9, -2],
    overlaying: 'y',
    side: 'left',
    tickmode: 'array',
    tickvals: fluxTicks,
    ticktext: fluxTickText,
    ticks: '',
    showgrid: true,
    gridcolor: '#b0b0b0',
    gridwidth: 1.1,
    zeroline: false,
    showline: false,
    ticklabelstandoff: 5,
    tickfont: {family: font, size: 20.8, color: black},
    title: {text: 'Flux (Watts · m<sup>−2</sup>)', font: {family: font, size: 20.8, color: black}, standoff: 10}
  },
  // GOES class letters at the middle of each decade
  yaxis2: {
    type: 'log',
    range: [-9, -2],
    overlaying: 'y',
    side: 'right',
    tickmode: 'array',
    tickvals: classCenters,
    ticktext: classLabels,
    ticks: 'inside',
    ticklen: 9,
    tickwidth: 1.2,
    tickcolor: black,
    showgrid: false,
    zeroline: false,
    showline: false,
    ticklabelstandoff: 2,
    tickfont: {family: font, size: 20.8, color: black},
    title: {text: 'GOES Class', font: {family: font, size: 20.8, color: black}, standoff: 10}
  },
  shapes: shapes,
  annotations: [{
    text: 'Generated : 29-Aug-2022 23:35 UTC',
    xref: 'paper', yref: 'paper',
    x: 0.975, y: 0.031,
    xanchor: 'right', yanchor: 'middle',
    showarrow: false,
    font: {family: font, size: 11.1, color: black}
  }]
};

Plotly.newPlot('goesPlot',
  [longTrace, shortTrace, holder('y2'), holder('y3')],
  layout, {displayModeBar: false, staticPlot: true});
</script>
</body>
</html>
